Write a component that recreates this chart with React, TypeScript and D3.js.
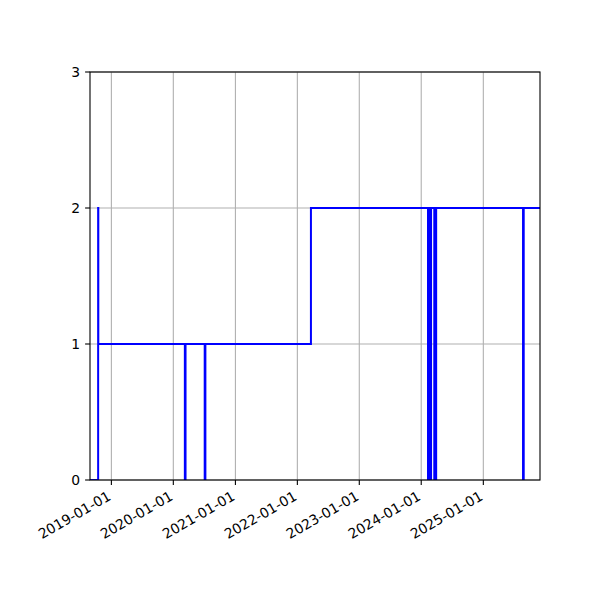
import * as React from 'react';
import * as d3 from 'd3';

// step series: value holds from each date until the next one
const stepDates: string[] = [
    "2018-08-28", "2018-10-15", "2018-10-16",
    "2020-03-09", "2020-03-13",
    "2020-07-04", "2020-07-08",
    "2022-03-22",
    "2024-02-10", "2024-02-14", "2024-02-17", "2024-02-21", "2024-02-24", "2024-02-28",
    "2024-03-18", "2024-03-23", "2024-03-25", "2024-03-29",
    "2025-08-23", "2025-08-27",
    "2025-12-01",
];
const stepValues: number[] = [
    0, 2, 1,
    0, 1,
    0, 1,
    2,
    0, 2, 0, 2, 0, 2,
    0, 2, 0, 2,
    0, 2,
    2,
];

const xTickDates: string[] = [
    "2019-01-01", "2020-01-01", "2021-01-01", "2022-01-01",
    "2023-01-01", "2024-01-01", "2025-01-01",
];
const yTicks: number[] = [0, 1, 2, 3];
const xDomain: string[] = ["2018-08-28", "2025-12-01"];

const WIDTH = 600;
const HEIGHT = 600;
const MARGINS = { top: 72, left: 90, bottom: 120, right: 60 };
const FONT = '"DejaVu Sans", sans-serif';
const FONT_SIZE = 13.9;
const TICK = 4.9;

const parse = d3.utcParse("%Y-%m-%d");
const fmt = d3.utcFormat("%Y-%m-%d");

export default function App() {
    const innerW = WIDTH - MARGINS.left - MARGINS.right;
    const innerH = HEIGHT - MARGINS.top - MARGINS.bottom;

    const xScale = d3.scaleUtc()
        .domain(xDomain.map(d => parse(d) as Date))
        .range([0, innerW]);
    const yScale = d3.scaleLinear()
        .domain([0, 3])
        .range([innerH, 0]);

    const points: [Date, number][] = stepDates.map((d, i) => [parse(d) as Date, stepValues[i]]);

    const lineFn = d3.line<[Date, number]>()
        .x(d => xScale(d[0]))
        .y(d => yScale(d[1]))
        .curve(d3.curveStepAfter);

    const xTicks = xTickDates.map(d => parse(d) as Date);

    return (
        <svg width={WIDTH} height={HEIGHT}
            style={{ position: 'absolute', left: 0, top: 0, background: '#fff' }}>
            <defs>
                <clipPath id="plot-clip">
                    <rect x={0} y={0} width={innerW} height={innerH} />
                </clipPath>
            </defs>
            <rect width={WIDTH} height={HEIGHT} fill="#fff" />
            <g transform={'translate(' + [MARGINS.left, MARGINS.top] + ')'}>
                {/* grid */}
                <g stroke="#b0b0b0" strokeWidth={1.1}>
                    {xTicks.map((t, i) => (
                        <line key={'gx' + i} x1={xScale(t)} x2={xScale(t)} y1={0} y2={innerH} />
                    ))}
                    {yTicks.map((v, i) => (
                        <line key={'gy' + i} x1={0} x2={innerW} y1={yScale(v)} y2={yScale(v)} />
                    ))}
                </g>

                {/* series */}
                <path d={lineFn(points) || ''} fill="none" stroke="#0000ff" strokeWidth={2}
                    strokeLinejoin="miter" clipPath="url(#plot-clip)" />

                {/* spines */}
                <rect x={0} y={0} width={innerW} height={innerH} fill="none"
                    stroke="#000" strokeWidth={1.1} />

                {/* y axis */}
                <g fontFamily={FONT} fontSize={FONT_SIZE} fill="#000">
                    {yTicks.map((v, i) => (
                        <g key={'yt' + i} transform={'translate(0,' + yScale(v) + ')'}>
                            <line x1={-TICK} x2={0} stroke="#000" strokeWidth={1.1} />
                            <text x={-TICK - 4.9} dy="0.35em" textAnchor="end">{v}</text>
                        </g>
                    ))}
                </g>

                {/* x axis */}
                <g fontFamily={FONT} fontSize={FONT_SIZE} fill="#000">
                    {xTicks.map((t, i) => {
                        const x = xScale(t);
                        return (
                            <g key={'xt' + i}>
                                <line x1={x} x2={x} y1={innerH} y2={innerH + TICK}
                                    stroke="#000" strokeWidth={1.1} />
                                <text textAnchor="end"
                                    transform={'translate(' + [x + 0.5, innerH + 19] + ') rotate(-30)'}>
                                    {fmt(t)}
                                </text>
                            </g>
                        );
                    })}
                </g>
            </g>
        </svg>
    );
}
